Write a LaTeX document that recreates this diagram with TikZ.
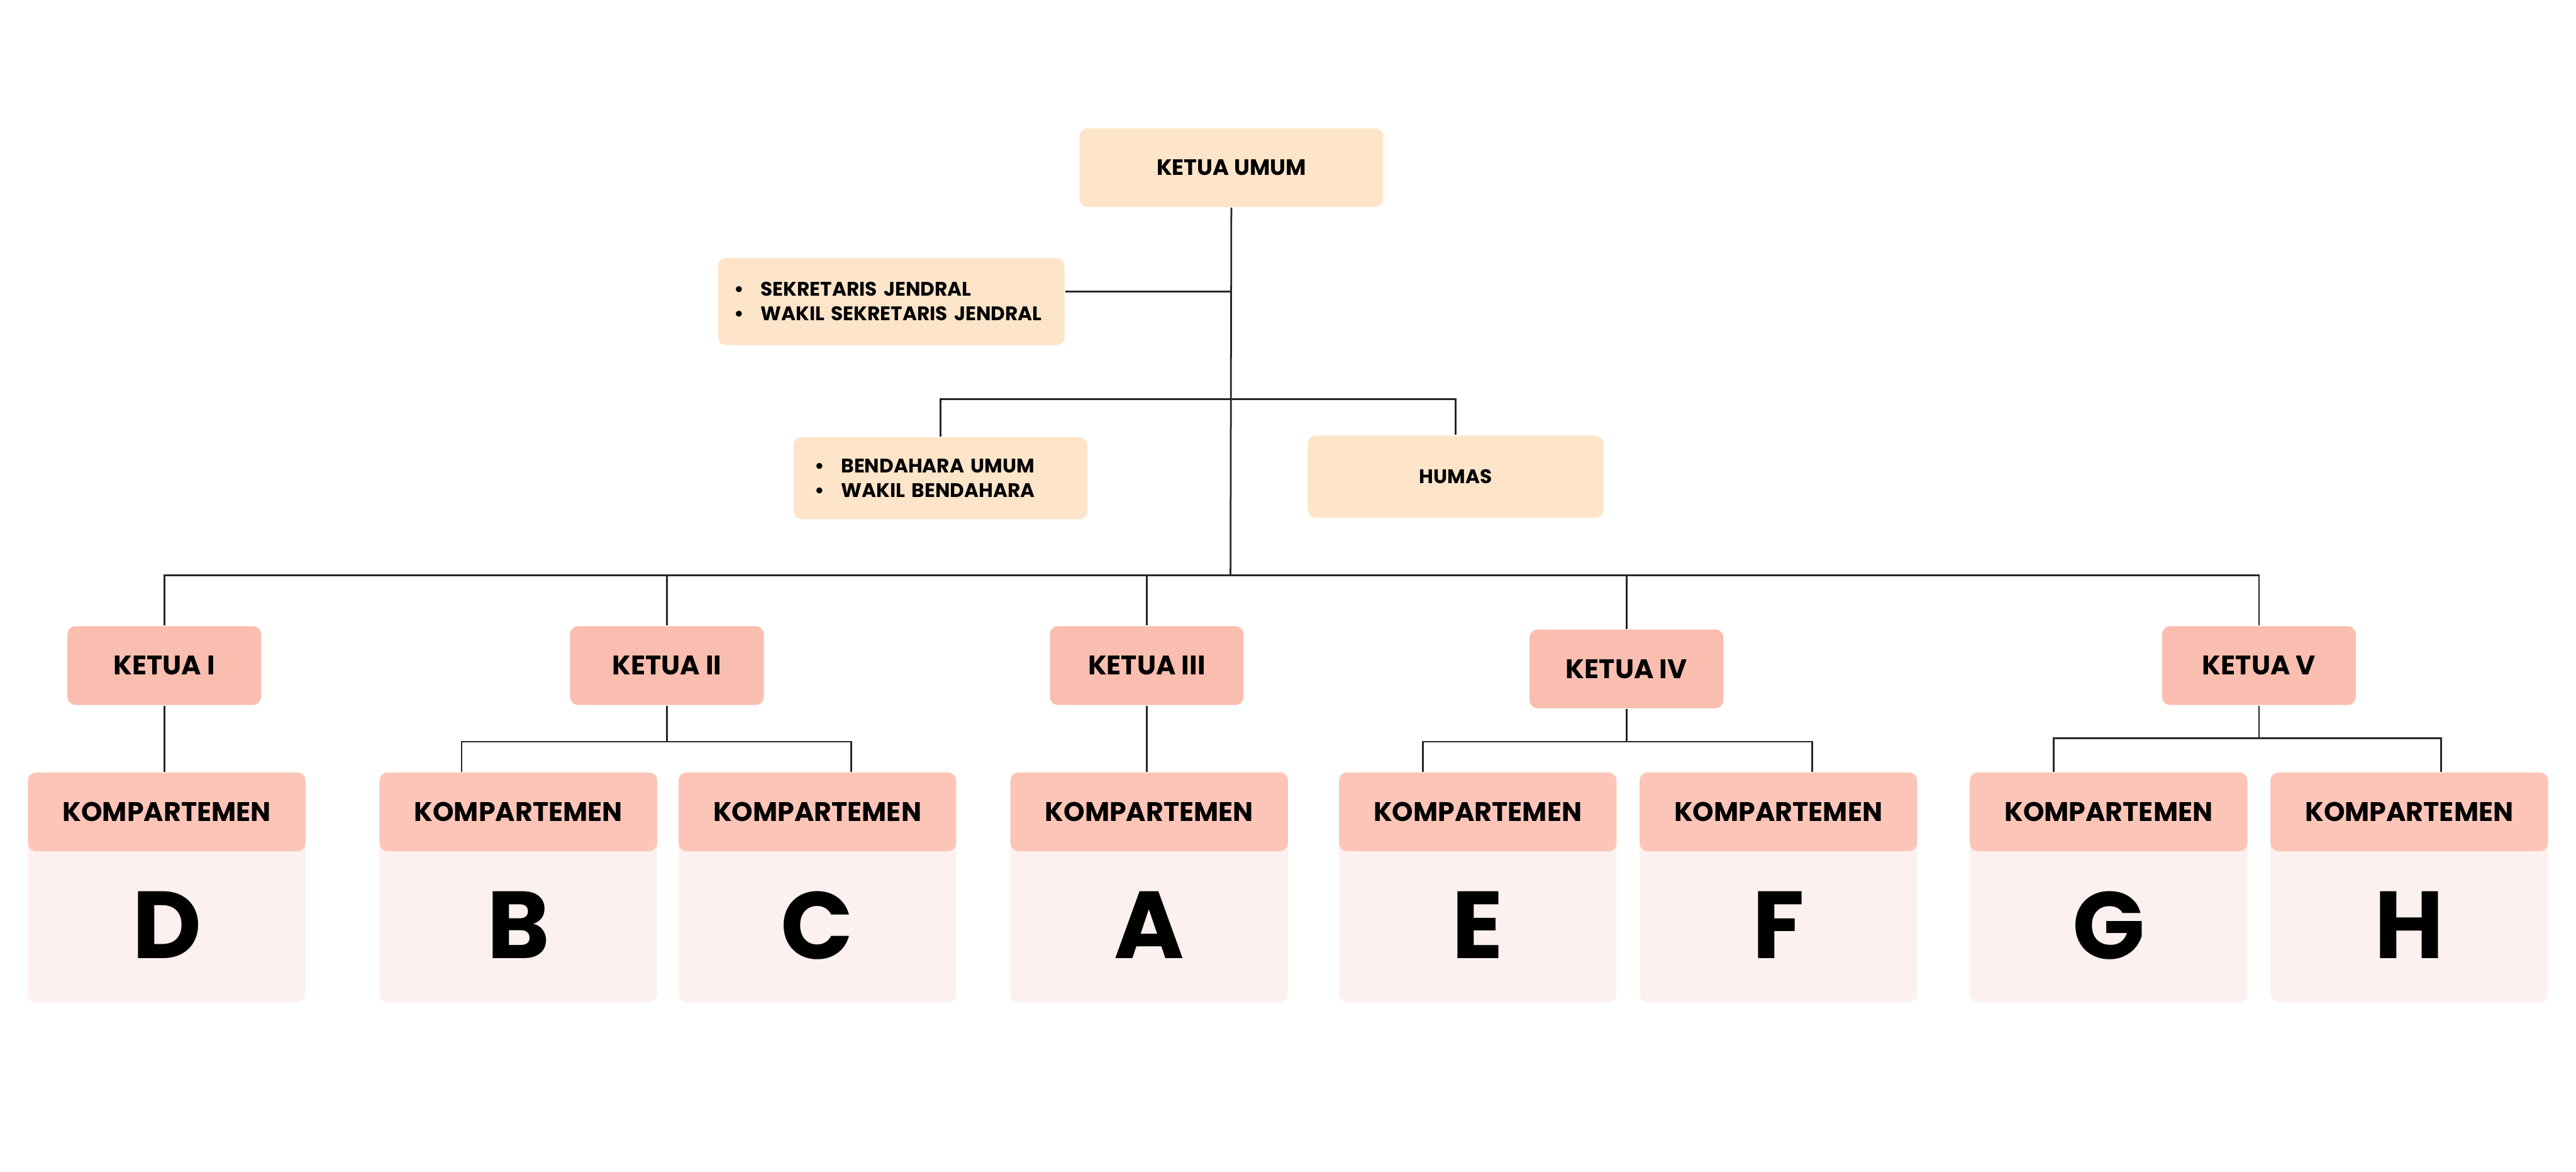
\documentclass[tikz,border=0pt]{standalone}
\usepackage{fontspec}
\setmainfont{Poppins}
\usepackage{xcolor}
\usetikzlibrary{positioning}

\definecolor{krem}{RGB}{254,229,201}
\definecolor{salem}{RGB}{250,190,176}
\definecolor{salemmuda}{RGB}{253,197,184}
\definecolor{pinkpucat}{RGB}{253,241,239}

\newcommand{\poin}{\makebox[0.32cm][l]{\textbullet}}

\begin{document}
\begin{tikzpicture}[x=0.02cm, y=-0.02cm,
	umumbox/.style={fill=krem, rounded corners=0.1cm, inner sep=0pt, font=\fontsize{6.8}{8.5}\selectfont\bfseries},
	ketuabox/.style={fill=salem, rounded corners=0.1cm, minimum width=2.36cm, minimum height=0.96cm, inner sep=0pt, font=\fontsize{9.3}{11}\selectfont\bfseries},
	kompkepala/.style={fill=salemmuda, rounded corners=0.1cm, minimum width=3.38cm, minimum height=0.96cm, inner sep=0pt, font=\fontsize{9.3}{11}\selectfont\bfseries},
	kompbadan/.style={fill=pinkpucat, rounded corners=0.1cm, minimum width=3.38cm, minimum height=2.8cm, inner sep=0pt},
	huruf/.style={font=\fontsize{33}{33}\selectfont\bfseries},
	garis/.style={line width=0.6pt, draw=black!85}]

	\useasboundingbox (0,0) rectangle (1568,713);

	% pengurus inti
	\node[umumbox, minimum width=3.7cm, minimum height=0.96cm, font=\fontsize{7.7}{9}\selectfont\bfseries] (umum) at (749.5,102) {KETUA UMUM};
	\node[umumbox, minimum width=4.22cm, minimum height=1.06cm, text width=3.82cm, inner xsep=0.2cm, align=left] (sekjen) at (542.5,183.5)
		{\poin SEKRETARIS JENDRAL\\ \poin WAKIL SEKRETARIS JENDRAL};
	\node[umumbox, minimum width=3.58cm, minimum height=1.0cm, text width=3.06cm, inner xsep=0.26cm, align=left] (bendahara) at (572.5,291)
		{\poin BENDAHARA UMUM\\ \poin WAKIL BENDAHARA};
	\node[umumbox, minimum width=3.6cm, minimum height=1.0cm] (humas) at (886,290) {HUMAS};

	% para ketua
	\node[ketuabox] (k1) at (100,405) {KETUA I};
	\node[ketuabox] (k2) at (406,405) {KETUA II};
	\node[ketuabox] (k3) at (698,405) {KETUA III};
	\node[ketuabox] (k4) at (990,407) {KETUA IV};
	\node[ketuabox] (k5) at (1375,405) {KETUA V};

	% kompartemen
	\foreach \n/\x in {D/101.5, B/315.5, C/497.5, A/699.5, E/899.5, F/1082.5, G/1283.5, H/1466.5} {
		\node[kompbadan] (b\n) at (\x,540) {};
		\node[kompkepala] (k\n) at (\x,494) {KOMPARTEMEN};
		\node[huruf] (h\n) at (\x,563) {\n};
	}

	% garis
	\coordinate (hub) at (749,350);
	\coordinate (bh) at (749,243);
	\draw[garis] (umum.south) -- (hub);
	\draw[garis] ([yshift=0.12cm]sekjen.east) -- ++(101,0);
	\draw[garis] (bendahara.north) |- (bh) -| (humas.north);
	\draw[garis] (k1.north) |- (hub) -| (k5.north);
	\draw[garis] (k2.north) -- (k2.north |- hub);
	\draw[garis] (k3.north) -- (k3.north |- hub);
	\draw[garis] (k4.north) -- (k4.north |- hub);

	\draw[garis] (k1.south) -- (k1.south |- kD.north);
	\draw[garis] (k3.south) -- (k3.south |- kA.north);

	\draw[garis] (k2.south) -- ++(0,22) coordinate (j2);
	\draw[garis] ([xshift=-0.69cm]kB.north) |- (j2) -| ([xshift=0.41cm]kC.north);
	\draw[garis] (k4.south) -- ++(0,20) coordinate (j4);
	\draw[garis] ([xshift=-0.67cm]kE.north) |- (j4) -| ([xshift=0.41cm]kF.north);
	\draw[garis] (k5.south) -- ++(0,20) coordinate (j5);
	\draw[garis] ([xshift=-0.67cm]kG.north) |- (j5) -| ([xshift=0.39cm]kH.north);
\end{tikzpicture}
\end{document}
